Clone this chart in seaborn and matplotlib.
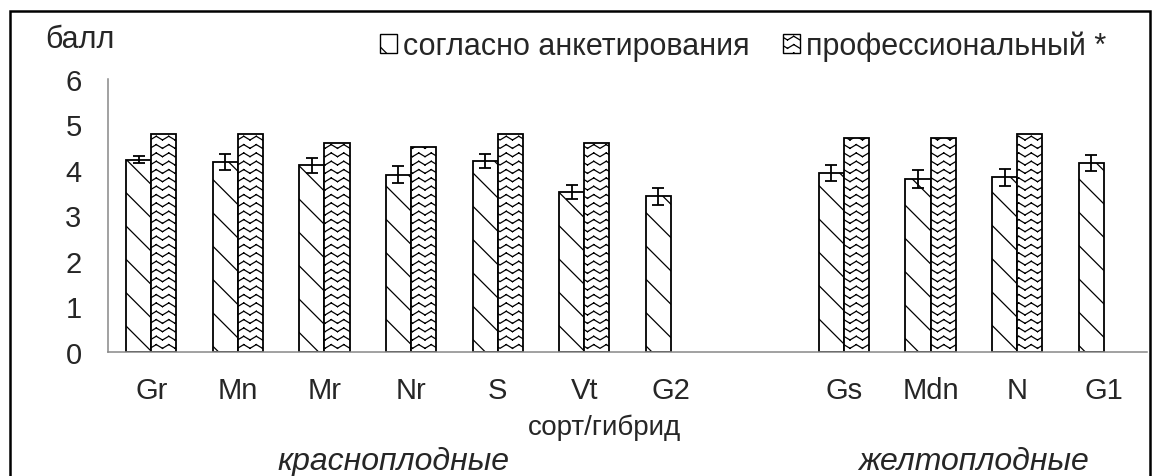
import warnings
warnings.filterwarnings("ignore")
import numpy as np
import pandas as pd
import matplotlib
matplotlib.use("Agg")
import matplotlib.pyplot as plt
import matplotlib.hatch as mhatch
import matplotlib.transforms as mtrans
from matplotlib.path import Path
from matplotlib.patches import Rectangle, Patch
import seaborn as sns

# ---------------- data ----------------
categories = ["Gr", "Mn", "Mr", "Nr", "S", "Vt", "G2", " ", "Gs", "Mdn", "N", "G1"]
series_names = ["согласно анкетирования", "профессиональный *"]
survey = [4.23, 4.18, 4.10, 3.90, 4.20, 3.52, 3.42, np.nan, 3.93, 3.80, 3.84, 4.15]
survey_err = [0.08, 0.17, 0.16, 0.19, 0.15, 0.15, 0.18, np.nan, 0.18, 0.19, 0.19, 0.17]
professional = [4.8, 4.8, 4.6, 4.5, 4.8, 4.6, np.nan, np.nan, 4.7, 4.7, 4.8, np.nan]
group_labels = ["красноплодные", "желтоплодные"]
group_centers = [2.8, 9.5]
y_ticks = [0, 1, 2, 3, 4, 5, 6]

# ---------------- custom zigzag hatch (separate segments, so nothing is filled) ----------------
class ZigZagHatch(mhatch.HatchPatternBase):
    def __init__(self, hatch, density):
        self.num_rows = int(round(hatch.count('z') * density))
        self.periods = 8
        self.num_vertices = self.num_rows * (2 * self.periods) * 2

    def set_vertices_and_codes(self, vertices, codes):
        n = self.num_rows
        step = 1.0 / n
        amp = step * 0.45
        idx = 0
        for i in range(n):
            y0 = i * step + step * 0.2
            for j in range(2 * self.periods):
                xa = j / (2.0 * self.periods)
                xb = (j + 1) / (2.0 * self.periods)
                ya = y0 + (amp if j % 2 else 0.0)
                yb = y0 + (amp if (j + 1) % 2 else 0.0)
                vertices[idx] = (xa, ya)
                codes[idx] = Path.MOVETO
                vertices[idx + 1] = (xb, yb)
                codes[idx + 1] = Path.LINETO
                idx += 2

mhatch._hatch_types.append(ZigZagHatch)

# ---------------- style ----------------
sns.set_style("white")
plt.rcParams['font.family'] = ['Liberation Sans', 'DejaVu Sans']
plt.rcParams['hatch.linewidth'] = 0.9

W, H = 1158, 477
fig = plt.figure(figsize=(W / 100, H / 100), dpi=100)
ax = fig.add_axes([108 / W, (H - 353) / H, (1147 - 108) / W, (353 - 80) / H])

rows = []
for c, s, p in zip(categories, survey, professional):
    if not np.isnan(s):
        rows.append({"cat": c, "val": s, "series": series_names[0]})
    if not np.isnan(p):
        rows.append({"cat": c, "val": p, "series": series_names[1]})
df = pd.DataFrame(rows)

sns.barplot(data=df, x="cat", y="val", hue="series", order=categories,
            hue_order=series_names, palette=["white", "white"],
            edgecolor="black", linewidth=1.3, width=0.58, errorbar=None,
            legend=False, ax=ax)

hatches = ["\\", "zz"]
for cont, h in zip(ax.containers, hatches):
    for bar in cont:
        bar.set_hatch(h)
        bar.set_edgecolor("black")

# error bars on survey bars
xs, ys, es = [], [], []
for bar in ax.containers[0]:
    cx = bar.get_x() + bar.get_width() / 2
    idx = int(round(cx))
    xs.append(cx)
    ys.append(bar.get_height())
    es.append(survey_err[idx])
ax.errorbar(xs, ys, yerr=es, fmt="none", ecolor="black", elinewidth=1.3,
            capsize=4.5, capthick=1.3, zorder=5)

# axes
ax.set_xlim(-0.5, len(categories) - 0.5)
ax.set_ylim(0, 6)
ax.set_yticks(y_ticks)
ax.set_yticklabels([str(t) for t in y_ticks], fontsize=21)
ax.set_xticks(range(len(categories)))
ax.set_xticklabels(categories, fontsize=21)
ax.set_xticks(np.arange(-0.5, len(categories), 1.0), minor=True)
ax.tick_params(axis="x", which="major", length=0, pad=17)
ax.tick_params(axis="x", which="minor", length=6, width=1.1, color="#888888", direction="out")
ax.tick_params(axis="y", length=6, width=1.1, color="#888888", direction="out", pad=13)
for s in ["top", "right"]:
    ax.spines[s].set_visible(False)
for s in ["left", "bottom"]:
    ax.spines[s].set_color("#888888")
    ax.spines[s].set_linewidth(1.1)
ax.set_ylabel("")
ax.set_xlabel("сорт/гибрид", fontsize=20)
ax.xaxis.set_label_coords(0.478, -(415 - 353) / 273)

# group labels
trans = mtrans.blended_transform_factory(ax.transData, fig.transFigure)
for lab, cx in zip(group_labels, group_centers):
    ax.text(cx, 1 - 470 / H, lab, transform=trans, ha="center", va="baseline",
            fontsize=23, style="italic")

# "балл"
fig.text(45 / W, 1 - 48 / H, "балл", fontsize=22, ha="left", va="baseline")

# legend
handles = [Patch(facecolor="white", edgecolor="black", hatch=h, linewidth=1.0) for h in hatches]
fig.legend(handles, series_names, loc="center left",
           bbox_to_anchor=(380 / W, 1 - 47 / H), bbox_transform=fig.transFigure,
           ncol=2, frameon=False, fontsize=22, handlelength=0.55, handleheight=0.55,
           handletextpad=0.2, columnspacing=1.1, borderpad=0, borderaxespad=0)

# outer frame (open at bottom)
fig.patches.append(Rectangle((10 / W, -0.1), (1150 - 10) / W, 1.1 - 12 / H,
                             transform=fig.transFigure, fill=False,
                             edgecolor="black", linewidth=1.8))

fig.savefig("out.png", dpi=100)
